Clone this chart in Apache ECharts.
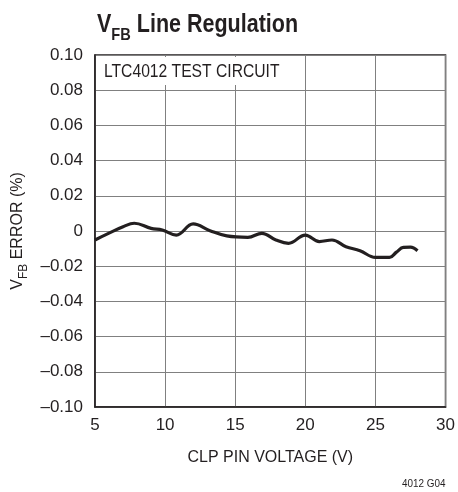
<!DOCTYPE html>
<html>
<head>
<meta charset="utf-8">
<script src="https://cdn.jsdelivr.net/npm/echarts@6/dist/echarts.min.js"></script>
<style>
html,body{margin:0;padding:0;background:#fff;}
#chart{width:458px;height:492px;}
</style>
</head>
<body>
<div id="chart"></div>
<script>
// Data
const voltage = [5, 6, 7, 7.8, 9, 9.8, 10.8, 12, 13.2, 14.4, 15.9, 16.9, 17.9, 18.8, 20, 21, 21.9, 22.9, 23.9, 25, 26, 26.5, 27, 27.5, 28];
const vfbError = [-0.0051, -0.0012, 0.0024, 0.0044, 0.0015, 0.0006, -0.0023, 0.0040, 0.0002, -0.0028, -0.0036, -0.0013, -0.0051, -0.0070, -0.0023, -0.0060, -0.0051, -0.0089, -0.0112, -0.0150, -0.0150, -0.0120, -0.0093, -0.0092, -0.0112];
const xTicks = [5, 10, 15, 20, 25, 30];
const yTicks = [-0.10, -0.08, -0.06, -0.04, -0.02, 0, 0.02, 0.04, 0.06, 0.08, 0.10];

const FONT = '"Liberation Sans", Arial, sans-serif';
const INK = '#231f20';
const fmtY = v => {
  if (Math.abs(v) < 1e-9) return '0';
  const s = Math.abs(v).toFixed(2);
  return v < 0 ? '\u2013' + s : s;
};

const chart = echarts.init(document.getElementById('chart'));
chart.setOption({
  animation: false,
  backgroundColor: '#fff',
  grid: { left: 95, right: 12, top: 55, bottom: 85, containLabel: false,
    show: true, borderColor: INK, borderWidth: 1.5, backgroundColor: 'transparent' },
  xAxis: {
    type: 'value', min: 5, max: 30, interval: 5,
    axisLine: { show: true, onZero: false, lineStyle: { color: INK, width: 1.5 } },
    axisTick: { show: false },
    splitLine: { show: true, lineStyle: { color: '#808080', width: 1 } },
    axisLabel: { fontFamily: FONT, fontSize: 17, color: INK, margin: 10,
      formatter: v => xTicks.includes(v) ? String(v) : '' },
    name: 'CLP PIN VOLTAGE (V)', nameLocation: 'middle', nameGap: 43,
    nameTextStyle: { fontFamily: FONT, fontSize: 16, color: INK }
  },
  yAxis: {
    type: 'value', min: -0.1, max: 0.1, interval: 0.02,
    axisLine: { show: true, onZero: false, lineStyle: { color: INK, width: 1.5 } },
    axisTick: { show: false },
    splitLine: { show: true, lineStyle: { color: '#808080', width: 1 } },
    axisLabel: { fontFamily: FONT, fontSize: 17, color: INK, margin: 12,
      formatter: v => { const t = yTicks.find(k => Math.abs(k - v) < 1e-9); return t === undefined ? '' : fmtY(t); } },
    name: '{n|V}{s|FB}{n| ERROR (%)}', nameLocation: 'middle', nameGap: 63, nameRotate: 90,
    nameTextStyle: {
      rich: {
        n: { fontFamily: FONT, fontSize: 16, color: INK, verticalAlign: 'bottom', lineHeight: 20 },
        s: { fontFamily: FONT, fontSize: 12, color: INK, verticalAlign: 'bottom', lineHeight: 20, padding: [0, 0, -4, 0] }
      }
    }
  },
  graphic: [
    { type: 'text', x: 97, y: 8, scaleX: 0.86, z: 11,
      style: {
        text: '{v|V}{sub|FB}{v| Line Regulation}',
        rich: {
          v: { fontFamily: FONT, fontWeight: 'bold', fontSize: 25, fill: INK, verticalAlign: 'bottom', lineHeight: 30 },
          sub: { fontFamily: FONT, fontWeight: 'bold', fontSize: 17, fill: INK, verticalAlign: 'bottom', lineHeight: 30, padding: [0, 0, -6, 0] }
        }
      } },
    { type: 'rect', x: 97, y: 57, shape: { width: 200, height: 28 }, style: { fill: '#fff' }, z: 10 },
    { type: 'text', x: 104, y: 63, scaleX: 0.87, z: 11,
      style: { text: 'LTC4012 TEST CIRCUIT', fontFamily: FONT, fontSize: 18, fill: INK } },
    { type: 'text', x: 402, y: 478, scaleX: 0.9, z: 11,
      style: { text: '4012 G04', fontFamily: FONT, fontSize: 11, fill: INK } }
  ],
  series: [{
    type: 'line',
    data: voltage.map((x, i) => [x, vfbError[i]]),
    smooth: 0.4,
    showSymbol: false,
    lineStyle: { color: INK, width: 3.2 },
    z: 5
  }]
});
</script>
</body>
</html>
